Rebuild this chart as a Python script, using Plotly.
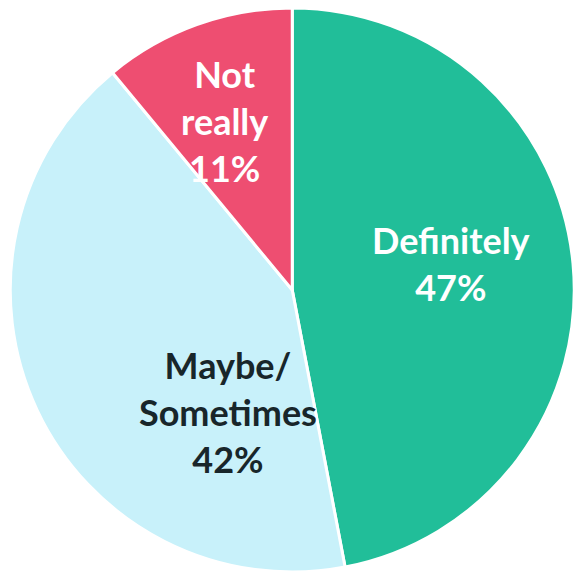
import plotly.graph_objects as go

# Survey answer shares
labels = ["Definitely", "Maybe/<br>Sometimes", "Not<br>really"]
values = [47, 42, 11]
colors = ["#21BE99", "#C8F1FA", "#EE4E71"]
text_colors = ["#FFFFFF", "#18262A", "#FFFFFF"]

# Where each slice's caption sits (paper coordinates, centre of text block)
label_pos = [(451 / 575, 1 - 263 / 572), (228 / 575, 1 - 412 / 572), (224 / 575, 1 - 121 / 572)]

fig = go.Figure(
    go.Pie(
        labels=labels,
        values=values,
        sort=False,
        direction="clockwise",
        rotation=0,
        marker=dict(colors=colors, line=dict(color="#FFFFFF", width=3)),
        textinfo="none",
        hoverinfo="label+percent",
        showlegend=False,
        domain=dict(x=[0.0165, 1.0], y=[0.0, 0.986]),
    )
)

total = sum(values)
for lab, val, col, (px, py) in zip(labels, values, text_colors, label_pos):
    fig.add_annotation(
        x=px,
        y=py,
        xref="paper",
        yref="paper",
        xanchor="center",
        yanchor="middle",
        text=f"{lab}<br>{round(100 * val / total)}%",
        showarrow=False,
        align="center",
        font=dict(family="Lato", size=36, weight="bold", color=col),
    )

fig.update_layout(
    width=575,
    height=572,
    margin=dict(l=0, r=0, t=0, b=0),
    paper_bgcolor="#FFFFFF",
)

fig.write_html("out.html")
